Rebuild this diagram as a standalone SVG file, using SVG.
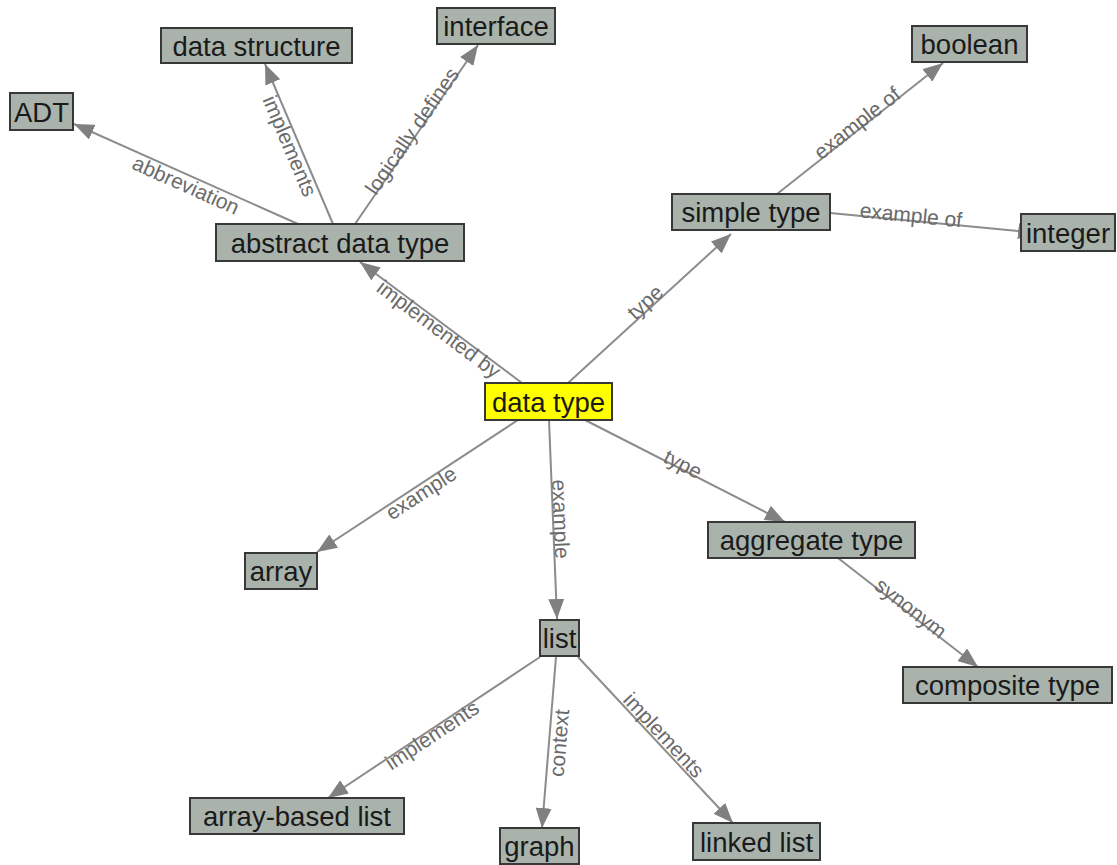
<svg xmlns="http://www.w3.org/2000/svg" width="1117" height="865" viewBox="0 0 1117 865">
<defs>
<marker id="arr" markerUnits="userSpaceOnUse" markerWidth="20" markerHeight="16" refX="20" refY="8" orient="auto">
<path d="M0,0 L20,8 L0,16 z" fill="#808080"/>
</marker>
<style>
.edge{stroke:#8c8c8c;stroke-width:2;fill:none;marker-end:url(#arr)}
.lbl{font-family:"Liberation Sans",Arial,sans-serif;font-size:21px;fill:#6a6a6a;text-anchor:middle}
.node rect{fill:#a9b3ab;stroke:#383838;stroke-width:2}
.node text{font-family:"Liberation Sans",Arial,sans-serif;font-size:27.5px;fill:#1a1a1a;text-anchor:middle}
#n-datatype rect{fill:#ffff00}
</style>
</defs>
<rect width="1117" height="865" fill="#ffffff"/>
<g id="connectors">
<line class="edge" x1="298" y1="224" x2="74" y2="124"/>
<line class="edge" x1="333" y1="224" x2="265" y2="64"/>
<line class="edge" x1="355" y1="224" x2="478" y2="45"/>
<line class="edge" x1="522" y1="383" x2="360" y2="262"/>
<line class="edge" x1="568" y1="383" x2="731" y2="234"/>
<line class="edge" x1="777" y1="194" x2="943" y2="63"/>
<line class="edge" x1="830" y1="213" x2="1038" y2="233"/>
<line class="edge" x1="518" y1="420" x2="317" y2="552"/>
<line class="edge" x1="549" y1="420" x2="557" y2="619"/>
<line class="edge" x1="585" y1="420" x2="785" y2="522"/>
<line class="edge" x1="838" y1="558" x2="978" y2="667"/>
<line class="edge" x1="540" y1="657" x2="328" y2="798"/>
<line class="edge" x1="556" y1="657" x2="542" y2="828"/>
<line class="edge" x1="578" y1="657" x2="733" y2="823"/>
<text class="lbl" transform="translate(186,185) rotate(24.1)" dy="0.35em">abbreviation</text>
<text class="lbl" transform="translate(290,146) rotate(67)" dy="0.35em">implements</text>
<text class="lbl" transform="translate(412,131) rotate(-55.5)" dy="0.35em">logically defines</text>
<text class="lbl" transform="translate(439,329) rotate(36.8)" dy="0.35em">implemented by</text>
<text class="lbl" transform="translate(645,302) rotate(-42.4)" dy="0.35em">type</text>
<text class="lbl" transform="translate(857,123) rotate(-38)" dy="0.35em">example of</text>
<text class="lbl" transform="translate(911,215) rotate(5.7)" dy="0.35em">example of</text>
<text class="lbl" transform="translate(421,493) rotate(-33.1)" dy="0.35em">example</text>
<text class="lbl" transform="translate(561,519) rotate(87.7)" dy="0.35em">example</text>
<text class="lbl" transform="translate(683,464) rotate(27)" dy="0.35em">type</text>
<text class="lbl" transform="translate(911,608) rotate(37.9)" dy="0.35em">synonym</text>
<text class="lbl" transform="translate(432,735) rotate(-33.6)" dy="0.35em">implements</text>
<text class="lbl" transform="translate(559,743) rotate(-85.3)" dy="0.35em">context</text>
<text class="lbl" transform="translate(664,735) rotate(47)" dy="0.35em">implements</text>
</g>
<g id="n-adt" class="node"><rect x="10" y="93" width="63" height="37"/><text x="41.5" y="112" dy="0.35em">ADT</text></g>
<g id="n-datastructure" class="node"><rect x="161" y="28" width="191" height="35"/><text x="256.5" y="46" dy="0.35em">data structure</text></g>
<g id="n-interface" class="node"><rect x="437" y="8" width="118" height="36"/><text x="496" y="26.5" dy="0.35em">interface</text></g>
<g id="n-abstractdatatype" class="node"><rect x="216" y="224" width="248" height="37"/><text x="340" y="243" dy="0.35em">abstract data type</text></g>
<g id="n-boolean" class="node"><rect x="912" y="26" width="115" height="36"/><text x="969.5" y="44.5" dy="0.35em">boolean</text></g>
<g id="n-simpletype" class="node"><rect x="672" y="194" width="158" height="36"/><text x="751" y="212.5" dy="0.35em">simple type</text></g>
<g id="n-integer" class="node"><rect x="1021" y="214" width="94" height="37"/><text x="1068" y="233" dy="0.35em">integer</text></g>
<g id="n-datatype" class="node"><rect x="485" y="383" width="127" height="37"/><text x="548.5" y="402" dy="0.35em">data type</text></g>
<g id="n-array" class="node"><rect x="245" y="553" width="72" height="36"/><text x="281" y="571.5" dy="0.35em">array</text></g>
<g id="n-aggregatetype" class="node"><rect x="708" y="522" width="207" height="36"/><text x="811.5" y="540.5" dy="0.35em">aggregate type</text></g>
<g id="n-list" class="node"><rect x="540" y="620" width="39" height="36"/><text x="559.5" y="638.5" dy="0.35em">list</text></g>
<g id="n-compositetype" class="node"><rect x="903" y="667" width="209" height="36"/><text x="1007.5" y="685.5" dy="0.35em">composite type</text></g>
<g id="n-arraybasedlist" class="node"><rect x="190" y="798" width="214" height="36"/><text x="297" y="816.5" dy="0.35em">array-based list</text></g>
<g id="n-graph" class="node"><rect x="500" y="828" width="79" height="36"/><text x="539.5" y="846.5" dy="0.35em">graph</text></g>
<g id="n-linkedlist" class="node"><rect x="693" y="823" width="127" height="37"/><text x="756.5" y="842" dy="0.35em">linked list</text></g>
</svg>
